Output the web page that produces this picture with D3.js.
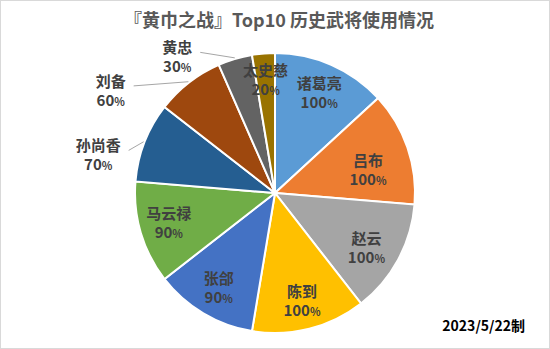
<!DOCTYPE html>
<html><head><meta charset="utf-8">
<script src="https://cdn.jsdelivr.net/npm/d3@7"></script>
<style>body{margin:0;background:#fff}svg{display:block}text{font-family:"Noto Sans CJK SC","Noto Sans",sans-serif}</style>
</head><body>
<svg id="c" width="550" height="349"></svg>
<script>
const categories = ["诸葛亮","吕布","赵云","陈到","张郃","马云禄","孙尚香","刘备","黄忠","太史慈"];
const values = [100,100,100,100,90,90,70,60,30,20];
const colors = ["#5B9BD5","#ED7D31","#A5A5A5","#FFC000","#4472C4","#70AD47","#255E91","#9E480E","#636363","#997300"];
const title = "『黄巾之战』Top10 历史武将使用情况";
const note = "2023/5/22制";

const W=550,H=349,cx=275,cy=193,R=140;
const svg=d3.select("#c");
svg.append("rect").attr("x",0.5).attr("y",0.5).attr("width",W-1).attr("height",H-1).attr("fill","#fff").attr("stroke","#d9d9d9");
svg.append("text").attr("x",279).attr("y",27).attr("text-anchor","middle").attr("font-size",18).attr("font-weight","bold").attr("fill","#595959").text(title);
svg.append("text").attr("x",525).attr("y",331).attr("text-anchor","end").attr("font-size",14).attr("font-weight","bold").attr("fill","#000").text(note);

const data=categories.map((c,i)=>({name:c,value:values[i],color:colors[i]}));
const pie=d3.pie().sort(null).value(d=>d.value);
const arcs=pie(data);
const arc=d3.arc().innerRadius(0).outerRadius(R);
const g=svg.append("g").attr("transform",`translate(${cx},${cy})`);
g.selectAll("path").data(arcs).join("path").attr("d",arc).attr("fill",d=>d.data.color).attr("stroke","#fff").attr("stroke-width",2);

const polar=(a,r)=>[r*Math.sin(a),-r*Math.cos(a)];
// label layout: [angle shift (deg), radius]
const outside={6:[-9,181],7:[-20,194],8:[-19,168]};
const inside={1:[4.5,96],2:[2,106],5:[1.5,110],9:[0,114]};
arcs.forEach((d,i)=>{
  const mid=(d.startAngle+d.endAngle)/2;
  let p, o=outside[i];
  if(o){
    p=polar(mid+o[0]*Math.PI/180,o[1]);
    const e=polar(mid,R+1);
    const hw=d.data.name.length*7.5+8;
    let lx=p[0]+hw, ly=p[1]-4;
    g.append("path").attr("d",`M${e[0]},${e[1]}L${lx},${ly}`).attr("stroke","#a6a6a6").attr("fill","none").attr("stroke-width",1);
  } else {
    const q=inside[i]||[0,110];
    p=polar(mid+q[0]*Math.PI/180,q[1]);
  }
  const t=g.append("text").attr("text-anchor","middle").attr("font-weight","bold").attr("fill","#404040").attr("font-size",15);
  t.append("tspan").attr("x",p[0]).attr("y",p[1]-3).text(d.data.name);
  const t2=t.append("tspan").attr("x",p[0]).attr("y",p[1]+16);
  t2.append("tspan").text(d.data.value);
  t2.append("tspan").attr("font-size",11).text("%");
});
</script>
</body></html>
